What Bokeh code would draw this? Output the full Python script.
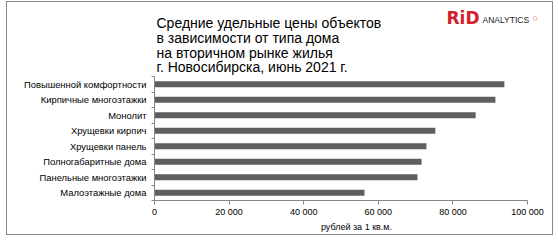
from bokeh.plotting import figure
from bokeh.models import (ColumnDataSource, FixedTicker, Range1d, Label,
                          BoxAnnotation, InlineStyleSheet)
from bokeh.embed import file_html
from bokeh.resources import INLINE

# Average price per square metre by house type (top to bottom)
categories = [
    "Повышенной комфортности",
    "Кирпичные многоэтажки",
    "Монолит",
    "Хрущевки кирпич",
    "Хрущевки панель",
    "Полногабаритные дома",
    "Панельные многоэтажки",
    "Малоэтажные дома",
]
prices = [93800, 91400, 86100, 75300, 72900, 71600, 70500, 56300]

x_ticks = [0, 20000, 40000, 60000, 80000, 100000]
x_tick_labels = ["0", "20 000", "40 000", "60 000", "80 000", "100 000"]

title_lines = [
    "Средние удельные цены объектов",
    "в зависимости от типа дома",
    "на вторичном рынке жилья",
    "г. Новосибирска, июнь 2021 г.",
]
x_axis_title = "рублей за 1 кв.м."

FONT = "Liberation Sans"
GRAY = "#868686"
RED = "#d3202a"

# page geometry (pixels from the top-left corner of the canvas)
W, H = 558, 242
FRAME_LEFT = 154        # value axis origin
FRAME_BOTTOM = 200      # category axis bottom
AXIS_TOP = 76           # top of the category axis
AXIS_RIGHT = 527        # position of the last value tick

n = len(categories)
x_max = x_ticks[-1]
# the plotting area reaches the top and right edges so the heading and
# logo can be placed inside it; axes are bounded to the data extent
x_end = x_max * (W - FRAME_LEFT) / (AXIS_RIGHT - FRAME_LEFT)
y_end = n * FRAME_BOTTOM / (FRAME_BOTTOM - AXIS_TOP)

# first category sits at the top of the axis
ypos = [n - i - 0.5 for i in range(n)]
src = ColumnDataSource(dict(y=ypos, price=prices, name=categories))

p = figure(width=W, height=H, output_backend="svg", toolbar_location=None,
           x_range=Range1d(0, x_end), y_range=Range1d(0, y_end),
           min_border_left=FRAME_LEFT, min_border_right=0,
           min_border_top=0, min_border_bottom=H - FRAME_BOTTOM, title=None)
p.outline_line_color = None
p.background_fill_color = "white"
p.border_fill_color = "white"
p.xgrid.visible = False
p.ygrid.visible = False

p.hbar(y="y", right="price", left=0, height=0.4, source=src,
       fill_color="#5f5f5f", line_color=None)

# horizontal value axis
xa = p.xaxis[0]
xa.bounds = (0, x_max)
xa.ticker = FixedTicker(ticks=x_ticks, minor_ticks=[])
xa.major_label_overrides = {t: s for t, s in zip(x_ticks, x_tick_labels)}
xa.axis_line_color = GRAY
xa.major_tick_line_color = GRAY
xa.major_tick_out = 4
xa.major_tick_in = 0
xa.minor_tick_line_color = None
xa.major_label_standoff = 2
xa.major_label_text_font = FONT
xa.major_label_text_font_size = "9px"
xa.major_label_text_color = "#000000"
xa.axis_label = x_axis_title
xa.axis_label_text_font = FONT
xa.axis_label_text_font_size = "9px"
xa.axis_label_text_font_style = "normal"
xa.axis_label_text_color = "#000000"
xa.axis_label_standoff = 2

# category axis: names at bar centres, tick marks between categories
ya = p.yaxis[0]
ya.bounds = (0, n)
ya.ticker = FixedTicker(ticks=ypos, minor_ticks=list(range(n + 1)))
ya.major_label_overrides = {y: c for y, c in zip(ypos, categories)}
ya.axis_line_color = GRAY
ya.major_tick_line_color = None
ya.major_tick_out = 0
ya.major_tick_in = 0
ya.minor_tick_line_color = GRAY
ya.minor_tick_out = 3
ya.minor_tick_in = 0
ya.major_label_standoff = 5
ya.major_label_text_font = FONT
ya.major_label_text_font_size = "9.4px"
ya.major_label_text_color = "#000000"


def sx(px):
    """canvas x (from left) -> screen units of the plotting area"""
    return px - FRAME_LEFT


def sy(py):
    """canvas y (from top) -> screen units of the plotting area"""
    return FRAME_BOTTOM - py


# heading, one label per line (y is the top of each text line)
line_tops = [14.6, 29.3, 44.0, 58.7]
for line, yt in zip(title_lines, line_tops):
    p.add_layout(Label(x=sx(156), y=sy(yt), x_units="screen", y_units="screen",
                       text=line, text_font=FONT, text_font_size="14px",
                       text_color="#000000", text_baseline="top"))

# RiD Analytics logo
p.add_layout(Label(x=sx(446), y=sy(7.6), x_units="screen", y_units="screen",
                   text="RiD", text_font="DejaVu Sans", text_font_style="bold",
                   text_font_size="17px", text_color=RED,
                   text_baseline="top"))
p.add_layout(Label(x=sx(482), y=sy(14.6), x_units="screen", y_units="screen",
                   text="ANALYTICS", text_font=FONT, text_font_size="8.5px",
                   text_color="#222222", text_baseline="top"))
p.add_layout(BoxAnnotation(left=sx(532.5), right=sx(536.5),
                           top=sy(16), bottom=sy(20),
                           left_units="screen", right_units="screen",
                           top_units="screen", bottom_units="screen",
                           fill_alpha=0, line_color=RED, line_width=1,
                           border_radius=2))

# thin frame around the whole chart
p.stylesheets = [InlineStyleSheet(css="""
:host::after {
  content: "";
  position: absolute;
  left: 6px; top: 1px; width: 547px; height: 234px;
  box-sizing: border-box;
  border: 1px solid #868686;
  pointer-events: none;
}
""")]

open("out.html", "w").write(file_html(p, INLINE))
